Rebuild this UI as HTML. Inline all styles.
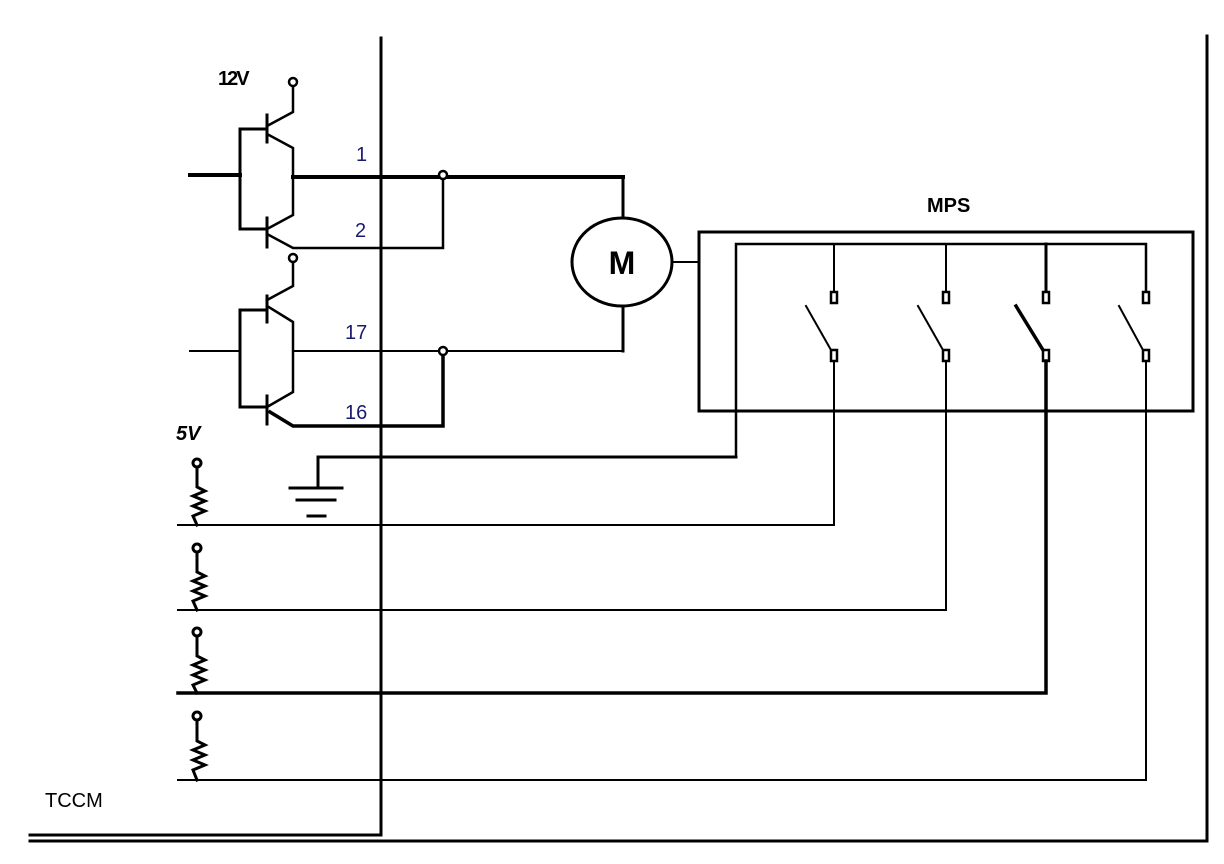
<!DOCTYPE html>
<html><head><meta charset="utf-8"><style>
html,body{margin:0;padding:0;background:#fff;}
svg{display:block;}
</style></head><body>
<svg width="1224" height="864" viewBox="0 0 1224 864" xmlns="http://www.w3.org/2000/svg">
<g stroke="#000" fill="none" stroke-linecap="square">
<line x1="381" y1="38" x2="381" y2="835" stroke-width="3"/>
<line x1="30" y1="835" x2="381" y2="835" stroke-width="3"/>
<line x1="30" y1="841" x2="1207" y2="841" stroke-width="3"/>
<line x1="1207" y1="36" x2="1207" y2="841" stroke-width="3"/>

<line x1="190" y1="175" x2="240" y2="175" stroke-width="4"/>
<polyline points="267,129 240,129 240,229 267,229" stroke-width="3"/>
<line x1="267" y1="115" x2="267" y2="142" stroke-width="3"/>
<line x1="267" y1="218" x2="267" y2="247" stroke-width="3"/>
<polyline points="267,126 293,112 293,88" stroke-width="2.5"/>
<polyline points="267,134 293,148 293,215 267,229" stroke-width="2.5"/>
<polyline points="267,234 293,248 443,248 443,175" stroke-width="2.5"/>
<line x1="293" y1="177" x2="623" y2="177" stroke-width="4"/>
<circle cx="293" cy="82" r="4" stroke-width="2.5" fill="#fff"/>
<circle cx="443" cy="175" r="4" stroke-width="2.5" fill="#fff"/>

<line x1="190" y1="351" x2="240" y2="351" stroke-width="2"/>
<polyline points="267,310 240,310 240,407 267,407" stroke-width="3"/>
<line x1="267" y1="296" x2="267" y2="322" stroke-width="3"/>
<line x1="267" y1="396" x2="267" y2="424" stroke-width="3"/>
<circle cx="293" cy="258" r="4" stroke-width="2.5" fill="#fff"/>
<polyline points="293,262 293,286 267,300" stroke-width="2.5"/>
<polyline points="267,306 293,322 293,392 267,407" stroke-width="2.5"/>
<polyline points="270,412 293,426 443,426 443,351" stroke-width="3.5"/>
<line x1="293" y1="351" x2="623" y2="351" stroke-width="2"/>
<circle cx="443" cy="351" r="4" stroke-width="2.5" fill="#fff"/>

<line x1="623" y1="177" x2="623" y2="218" stroke-width="3"/>
<line x1="623" y1="307" x2="623" y2="351" stroke-width="3"/>
<ellipse cx="622" cy="262" rx="50" ry="44" stroke-width="3" fill="#fff"/>
<line x1="672" y1="262" x2="699" y2="262" stroke-width="2"/>

<rect x="699" y="232" width="494" height="179" stroke-width="3"/>
<polyline points="736,457 736,244 1146,244 1146,292" stroke-width="2.5"/>
<line x1="834" y1="244" x2="834" y2="292" stroke-width="2"/>
<line x1="946" y1="244" x2="946" y2="292" stroke-width="2"/>
<line x1="1046" y1="244" x2="1046" y2="292" stroke-width="3"/>
<g stroke-width="2.5" fill="#fff">
<rect x="831" y="292" width="6" height="11"/><rect x="831" y="350" width="6" height="11"/>
<rect x="943" y="292" width="6" height="11"/><rect x="943" y="350" width="6" height="11"/>
<rect x="1043" y="292" width="6" height="11"/><rect x="1043" y="350" width="6" height="11"/>
<rect x="1143" y="292" width="6" height="11"/><rect x="1143" y="350" width="6" height="11"/>
</g>
<line x1="806" y1="306" x2="831" y2="350" stroke-width="2"/>
<line x1="918" y1="306" x2="943" y2="350" stroke-width="2"/>
<line x1="1016" y1="306" x2="1043" y2="350" stroke-width="3.5"/>
<line x1="1119" y1="306" x2="1143" y2="350" stroke-width="2"/>

<polyline points="736,457 318,457 318,488" stroke-width="3"/>
<line x1="290" y1="488" x2="342" y2="488" stroke-width="3"/>
<line x1="297" y1="500" x2="335" y2="500" stroke-width="3"/>
<line x1="308" y1="516" x2="325" y2="516" stroke-width="3"/>

<polyline points="178,525 834,525 834,361" stroke-width="2"/>
<polyline points="178,610 946,610 946,361" stroke-width="2"/>
<polyline points="178,693 1046,693 1046,361" stroke-width="3.5"/>
<polyline points="178,780 1146,780 1146,361" stroke-width="2"/>

<g stroke-width="3">
<circle cx="197" cy="463" r="4" fill="#fff"/>
<polyline points="197,467 197,487 205,491 193,496 205,501 193,506 205,511 193,516 197,525"/>
<circle cx="197" cy="548" r="4" fill="#fff"/>
<polyline points="197,552 197,572 205,576 193,581 205,586 193,591 205,596 193,601 197,610"/>
<circle cx="197" cy="632" r="4" fill="#fff"/>
<polyline points="197,636 197,656 205,660 193,665 205,670 193,675 205,680 193,685 197,693"/>
<circle cx="197" cy="716" r="4" fill="#fff"/>
<polyline points="197,720 197,741 205,745 193,750 205,755 193,760 205,765 193,770 197,780"/>
</g>
</g>

<g font-family="Liberation Sans, sans-serif">
<text x="218" y="85" font-size="20" font-weight="bold" letter-spacing="-2">12V</text>
<text x="176" y="440" font-size="20" font-weight="bold" font-style="italic">5V</text>
<text x="356" y="161" font-size="20" fill="#1a1a70">1</text>
<text x="355" y="237" font-size="20" fill="#1a1a70">2</text>
<text x="345" y="339" font-size="20" fill="#1a1a70">17</text>
<text x="345" y="419" font-size="20" fill="#1a1a70">16</text>
<text x="622" y="274" font-size="32" font-weight="bold" text-anchor="middle">M</text>
<text x="927" y="212" font-size="20" font-weight="bold">MPS</text>
<text x="45" y="807" font-size="20">TCCM</text>
</g>
</svg>
</body></html>
